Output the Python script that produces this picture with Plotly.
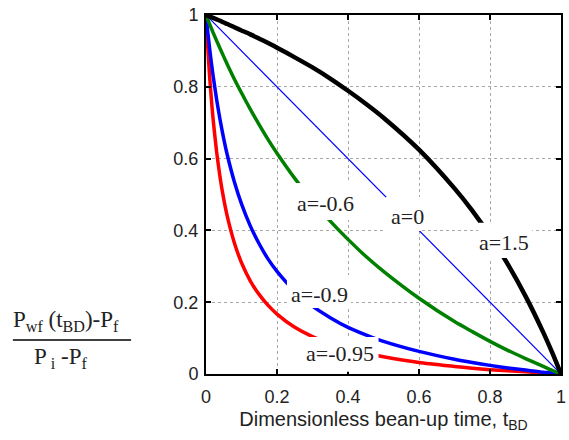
import plotly.graph_objects as go

# ---- data ----
t_bd = [0, 0.002, 0.005, 0.01, 0.015, 0.02, 0.03, 0.04, 0.05, 0.06, 0.08, 0.1, 0.125,
        0.15, 0.175, 0.2, 0.25, 0.3, 0.35, 0.4, 0.45, 0.5, 0.6, 0.7, 0.75, 0.8, 0.85,
        0.9, 0.95, 0.975, 1.0]
p_a15 = [1, 0.999, 0.998, 0.996, 0.994, 0.992, 0.988, 0.984, 0.979, 0.975, 0.966, 0.957,
         0.946, 0.934, 0.922, 0.909, 0.882, 0.854, 0.823, 0.789, 0.753, 0.714, 0.625,
         0.517, 0.455, 0.385, 0.306, 0.217, 0.116, 0.060, 0]
p_am06 = [1, 0.995, 0.988, 0.975, 0.963, 0.951, 0.928, 0.906, 0.884, 0.862, 0.821, 0.783,
          0.737, 0.694, 0.653, 0.615, 0.545, 0.483, 0.426, 0.375, 0.328, 0.286, 0.211,
          0.146, 0.118, 0.091, 0.066, 0.043, 0.021, 0.010, 0]
p_am09 = [1, 0.980, 0.952, 0.908, 0.868, 0.831, 0.764, 0.706, 0.655, 0.610, 0.535, 0.474,
          0.412, 0.362, 0.320, 0.286, 0.231, 0.189, 0.157, 0.130, 0.109, 0.091, 0.063,
          0.041, 0.032, 0.024, 0.017, 0.011, 0.005, 0.003, 0]
p_am095 = [1, 0.961, 0.909, 0.832, 0.767, 0.710, 0.618, 0.545, 0.487, 0.439, 0.365, 0.310,
           0.259, 0.221, 0.191, 0.167, 0.130, 0.104, 0.085, 0.070, 0.058, 0.048, 0.032,
           0.021, 0.016, 0.012, 0.009, 0.006, 0.003, 0.001, 0]
t_a0 = [0, 1]
p_a0 = [1, 0]

tick_vals = [0, 0.2, 0.4, 0.6, 0.8, 1]
tick_text = ["0", "0.2", "0.4", "0.6", "0.8", "1"]

labels = ["a=-0.6", "a=0", "a=1.5", "a=-0.9", "a=-0.95"]
label_pos = [(0.3375, 0.474), (0.567, 0.438), (0.840, 0.367), (0.319, 0.222), (0.378, 0.056)]
label_box = [(0.233, 0.433, 0.429, 0.532), (0.506, 0.606, 0.398, 0.493),
             (0.767, 0.919, 0.323, 0.421), (0.228, 0.408, 0.184, 0.276),
             (0.261, 0.486, 0.006, 0.103)]

SERIF = "Times New Roman, Liberation Serif, serif"
SANS = "Arial, Liberation Sans, sans-serif"

fig = go.Figure()
fig.add_trace(go.Scatter(x=t_bd, y=p_am095, mode="lines",
                         line=dict(color="#ff0000", width=3.5, shape="spline", smoothing=0.6)))
fig.add_trace(go.Scatter(x=t_bd, y=p_am09, mode="lines",
                         line=dict(color="#0000ff", width=3.5, shape="spline", smoothing=0.6)))
fig.add_trace(go.Scatter(x=t_bd, y=p_am06, mode="lines",
                         line=dict(color="#008000", width=3.5, shape="spline", smoothing=0.6)))
fig.add_trace(go.Scatter(x=t_a0, y=p_a0, mode="lines", line=dict(color="#0000ff", width=1.2)))
fig.add_trace(go.Scatter(x=t_bd, y=p_a15, mode="lines",
                         line=dict(color="#000000", width=4.5, shape="spline", smoothing=0.6)))

shapes = []
for (x0, x1, y0, y1) in label_box:
    shapes.append(dict(type="rect", xref="x", yref="y", x0=x0, x1=x1, y0=y0, y1=y1,
                       fillcolor="white", line=dict(width=0), layer="above"))
# fraction bar of y-axis label
shapes.append(dict(type="line", xref="paper", yref="paper", x0=-0.544, x1=-0.211,
                   y0=0.0947, y1=0.0947, line=dict(color="black", width=1.5)))

annotations = []
for txt, (x, y) in zip(labels, label_pos):
    annotations.append(dict(x=x, y=y, xref="x", yref="y", text=txt, showarrow=False,
                            xanchor="center", yanchor="middle",
                            font=dict(family=SERIF, size=22, color="#222")))
annotations.append(dict(x=-0.394, y=0.148, xref="paper", yref="paper", showarrow=False,
                        xanchor="center", yanchor="middle",
                        text="P<sub>wf</sub> (t<sub>BD</sub>)-P<sub>f</sub>",
                        font=dict(family=SERIF, size=23, color="#222")))
annotations.append(dict(x=-0.408, y=0.045, xref="paper", yref="paper", showarrow=False,
                        xanchor="center", yanchor="middle",
                        text="P<sub> i</sub> -P<sub>f</sub>",
                        font=dict(family=SERIF, size=23, color="#222")))

axis_common = dict(range=[0, 1], tickvals=tick_vals, ticktext=tick_text,
                   showgrid=True, gridcolor="#a8a8a8", griddash="dot", gridwidth=1.2,
                   showline=True, linecolor="black", linewidth=2, mirror="allticks",
                   ticks="inside", ticklen=5, tickwidth=2, tickcolor="black",
                   zeroline=False, ticklabeloverflow="allow",
                   tickfont=dict(family=SANS, size=18, color="#222"))

fig.update_layout(
    width=569, height=440,
    margin=dict(l=206, r=3, t=15, b=66),
    paper_bgcolor="white", plot_bgcolor="white",
    showlegend=False,
    xaxis=dict(**axis_common, ticklabelstandoff=5,
               title=dict(text="Dimensionless bean-up time, t<sub>BD</sub>",
                          font=dict(family=SANS, size=20, color="#222"), standoff=6)),
    yaxis=dict(**axis_common, ticklabelstandoff=2),
    shapes=shapes, annotations=annotations,
)

fig.write_html("out.html")
